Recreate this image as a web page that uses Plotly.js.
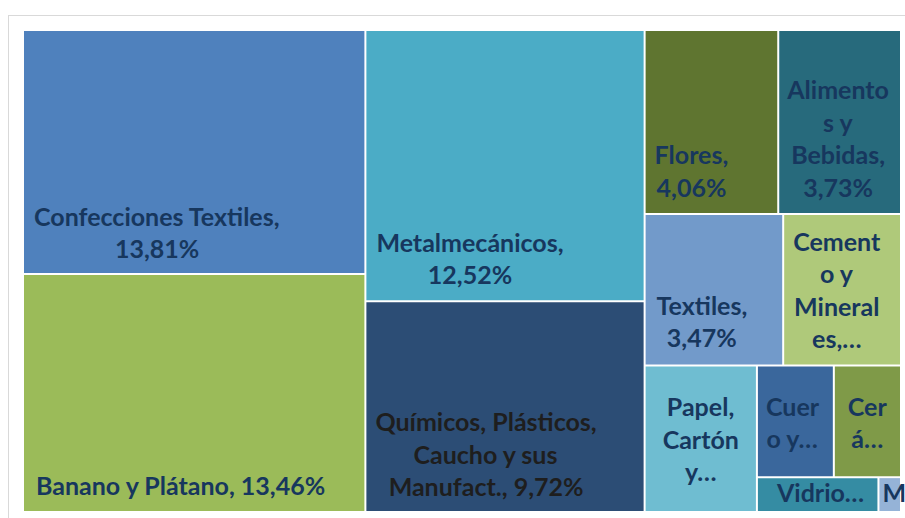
<!DOCTYPE html>
<html><head><meta charset="utf-8">
<script src="https://cdn.plot.ly/plotly-3.0.1.min.js"></script>
<style>
html,body{margin:0;padding:0;background:#fff;overflow:hidden;}
#frame{position:absolute;left:8px;top:15px;width:1000px;height:1000px;border:1px solid #D9D9D9;box-sizing:border-box;}
#chart{position:absolute;left:0;top:0;width:905px;height:518px;}
</style></head><body>
<div id="frame"></div><div id="chart"></div>
<script>
// Sectors (tile labels) and their export shares (%)
const categories = [
  "Confecciones Textiles", "Banano y Plátano", "Metalmecánicos",
  "Químicos, Plásticos, Caucho y sus Manufact.", "Flores", "Alimentos y Bebidas",
  "Textiles", "Cemento y Minerales", "Papel, Cartón y…", "Cuero y…",
  "Cerá…", "Vidrio…", "M"
];
const shares = [13.81, 13.46, 12.52, 9.72, 4.06, 3.73, 3.47, 2.95, 2.72, 1.42, 1.24, 0.70, 0.13];
// Labels as they appear inside the tiles
const displayLabels = [
  "Confecciones Textiles,<br>13,81%",
  "Banano y Plátano, 13,46%",
  "Metalmecánicos,<br>12,52%",
  "Químicos, Plásticos,<br>Caucho y sus<br>Manufact., 9,72%",
  "Flores,<br>4,06%",
  "Alimento<br>s y<br>Bebidas,<br>3,73%",
  "Textiles,<br>3,47%",
  "Cement<br>o y<br>Mineral<br>es,…",
  "Papel,<br>Cartón<br>y…",
  "Cuer<br>o y…",
  "Cer<br>á…",
  "Vidrio…",
  "M"
];

// ---- styles ----
const tileColors = ["#4F81BD", "#9BBB59", "#4BACC6", "#2C4D75", "#5F7530", "#276A7C",
  "#729ACA", "#AFC97A", "#6FBDD1", "#3A679C", "#7F9A48", "#358CA3", "#95B3D7"];
const labelColors = ["#17375E", "#17375E", "#17375E", "#1E1E1E", "#17375E", "#17375E",
  "#17375E", "#17375E", "#17375E", "#17375E", "#17375E", "#17375E", "#17375E"];
// label block inset from the tile's left edge, and baseline height above tile bottom (px)
const insetLeft = [11, 13, 11, 10, 10, 9, 12, 10, 18, 9, 14, 20, 1];
const baselineUp = [15, 16, 16, 15, 16, 16, 17, 16, 30, 28, 28, 9, 9];

const FONT_SIZE = 25;
const FONT_FAMILY = "Lato";
const DESC_EM = 0.213;   // descent of Lato
const TEXTPAD = 3;       // Plotly's own inner text padding

const ctx = document.createElement("canvas").getContext("2d");
ctx.font = "bold " + FONT_SIZE + "px " + FONT_FAMILY;
const NBSP = "\u00a0";
const spW = ctx.measureText(NBSP).width || FONT_SIZE * 0.193;
const spEm = spW / FONT_SIZE;

function hSpace(w) {
  if (w < 0.5) return "";
  const n = Math.floor(w / spW);
  const r = w - n * spW;
  let s = NBSP.repeat(n);
  if (r > 0.5) s += '<span style="font-size:' + (r / spEm).toFixed(2) + 'px">' + NBSP + "</span>";
  return s;
}
function bottomSpace(b) {
  const f = (b - TEXTPAD) / DESC_EM;
  if (f <= FONT_SIZE + 1) return "";
  return '<span style="font-size:' + f.toFixed(1) + 'px">' + NBSP + "</span>";
}

const tileText = displayLabels.map((lab, i) => {
  const lines = lab.split("<br>");
  const widths = lines.map(l => ctx.measureText(l).width);
  const W = Math.max(...widths);
  const lead = insetLeft[i] - TEXTPAD - 1;
  const out = lines.map((l, k) => hSpace(lead + (W - widths[k]) / 2) + l);
  out[out.length - 1] += bottomSpace(baselineUp[i]);
  return out.join("<br>");
});

const trace = {
  type: "treemap",
  labels: categories,
  parents: categories.map(() => ""),
  values: shares,
  text: tileText,
  textinfo: "text",
  textposition: "bottom left",
  sort: true,
  domain: {x: [0, 1], y: [0, 1]},
  tiling: {packing: "squarify", squarifyratio: 1, pad: 2},
  pathbar: {visible: false},
  marker: {colors: tileColors, line: {width: 0, color: "#fff"}, pad: {t: 0, l: 0, r: 0, b: 0}},
  leaf: {opacity: 1},
  textfont: {family: FONT_FAMILY + ", 'Open Sans', sans-serif", size: FONT_SIZE, color: labelColors, weight: "bold"},
  hoverinfo: "label+value"
};

const layout = {
  width: 905, height: 518,
  margin: {l: 24, r: 5, t: 31, b: 7, pad: 0},
  paper_bgcolor: "rgba(0,0,0,0)",
  plot_bgcolor: "rgba(0,0,0,0)",
  uniformtext: {mode: "show", minsize: FONT_SIZE},
  showlegend: false
};

Plotly.newPlot("chart", [trace], layout, {displayModeBar: false, staticPlot: true});
</script>
</body></html>
